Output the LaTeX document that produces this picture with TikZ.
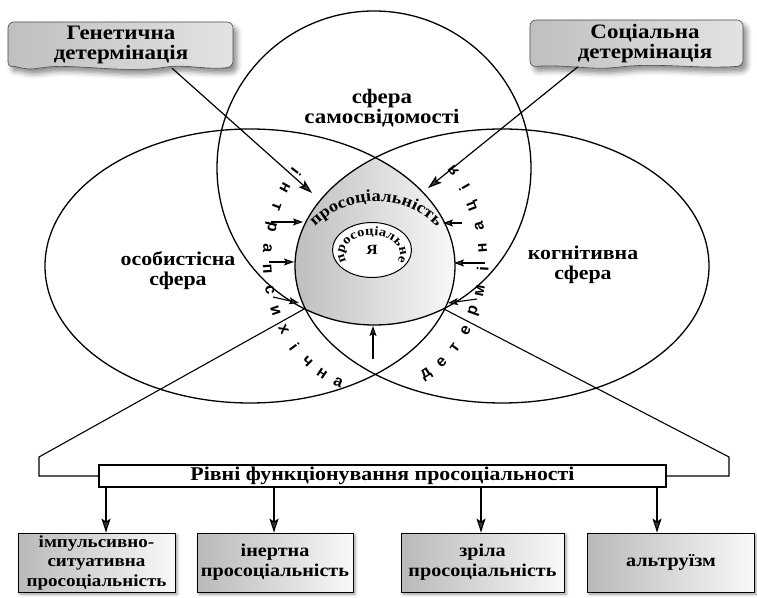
\documentclass[tikz,border=0pt]{standalone}
\usepackage{fontspec}
\setmainfont{Liberation Serif}[FakeStretch=1.12]
\newfontfamily\lsans{Liberation Sans}
\usetikzlibrary{arrows.meta,decorations.text,shadows.blur,shapes.geometric}
\begin{document}
\begin{tikzpicture}[x=1pt,y=1pt,
  outl/.style={line width=1.3pt},
  lbl/.style={font=\bfseries\fontsize{19.5}{20}\selectfont,align=center,inner sep=0pt},
  arr/.style={line width=1.2pt,-{Stealth[length=14pt,width=9pt,inset=3pt,fill=gray!45!black]}},
  sarr/.style={line width=1.1pt,-{Stealth[length=10pt,width=7pt,inset=2pt,fill=gray!45!black]}},
  sletter/.style={font=\lsans\bfseries\fontsize{16}{16}\selectfont,inner sep=0pt},
  topshape/.style={line width=0.6pt,draw=gray!60!black,left color=gray!50,right color=gray!22,
     blur shadow={shadow xshift=4pt,shadow yshift=-5pt,shadow blur radius=5pt,shadow opacity=45}},
  toptext/.style={font=\bfseries\fontsize{20.5}{20.5}\selectfont,align=center,inner sep=0pt,
     minimum width=200pt,minimum height=46pt},
  lvlbox/.style={draw,line width=0.8pt,left color=gray!55,right color=gray!5,
     font=\bfseries\fontsize{18}{20}\selectfont,align=center,inner sep=0pt,minimum height=59pt,
     blur shadow={shadow xshift=2pt,shadow yshift=-2pt,shadow blur radius=3pt,shadow opacity=40}},
  titlebox/.style={draw,line width=1.2pt,fill=white,font=\bfseries\fontsize{19.5}{19.5}\selectfont,
     inner sep=0pt,minimum width=567pt,minimum height=22pt}
]
\useasboundingbox (0,0) rectangle (757,597);

% shaded intersection
\begin{scope}
  \clip (374,429) circle[radius=157pt];
  \clip (250,331) ellipse[x radius=205pt,y radius=137pt];
  \clip (502,331) ellipse[x radius=207pt,y radius=137pt];
  \shade[left color=gray!52,right color=gray!4] (290,260) rectangle (460,445);
\end{scope}

% outlines
\draw[outl] (374,429) circle[radius=157pt];
\draw[outl] (250,331) ellipse[x radius=205pt,y radius=137pt];
\draw[outl] (502,331) ellipse[x radius=207pt,y radius=137pt];

% inner ellipse
\node[draw,line width=1pt,fill=white,ellipse,minimum width=79pt,minimum height=55pt,inner sep=0pt,
  font=\bfseries\fontsize{14}{14}\selectfont] (ya) at (372,347) {Я};
\path[decorate,decoration={text along path,text align=fit to path,
  text={|\bfseries\fontsize{13}{13}\selectfont|просоціальне}}]
  (346.6,335.4) arc[start angle=205,end angle=-25,x radius=28pt,y radius=18.5pt];

% curved prosocial text
\path[decorate,decoration={text along path,text align=center,
  text={|\bfseries\fontsize{16.5}{16.5}\selectfont|просоціальність}}]
  (307.3,361.4) arc[start angle=143,end angle=37,radius=86pt];

% sphere labels
\node[lbl,font=\bfseries\fontsize{20.5}{20}\selectfont] (ssv) at (382,489) {сфера\\самосвідомості};
\node[lbl] (osf) at (178,326) {особистісна\\сфера};
\node[lbl] (kog) at (583,332) {когнітивна\\сфера};

% rotated letters
\foreach \ch [count=\k from 0] in {і,н,т,р,а,п,с,и,х,і,ч,н,а} {
  \pgfmathsetmacro\angA{137+\k*9.4167}
  \node[sletter,rotate={atan2(130*cos(\angA),-108*sin(\angA))}] (li\k)
    at ({375+108*cos(\angA)},{337+130*sin(\angA)}) {\ch};
}
\foreach \ch [count=\k from 0] in {д,е,т,е,р,м,і,н,а,ц,і,я} {
  \pgfmathsetmacro\angA{298.5+\k*9.5636}
  \node[sletter,rotate={atan2(130*cos(\angA),-108*sin(\angA))}] (ri\k)
    at ({375+108*cos(\angA)},{337+130*sin(\angA)}) {\ch};
}

% top boxes
\path[topshape,rounded corners=6pt] (8,575) -- (233,575) -- (233,530)
  .. controls (205,527) and (185,533) .. (160,529)
  .. controls (120,525) and (70,533) .. (40,529)
  .. controls (25,527) and (15,531) .. (8,529) -- cycle;
\node[toptext] (gen) at (121,552) {Генетична\\детермінація};
\path[topshape,rounded corners=6pt] (530,577) -- (743,577) -- (743,531)
  .. controls (700,528) and (660,534) .. (620,530)
  .. controls (590,527) and (560,533) .. (530,530) -- cycle;
\node[toptext] (soc) at (645,553.5) {Соціальна\\детермінація};

\coordinate (tg) at (312,404);
\coordinate (ts) at (428,409);
\draw[arr] ([xshift=51pt]gen.south) -- (tg);
\draw[arr] ([xshift=-67pt]soc.south) -- (ts);

% small arrows
\coordinate (l1a) at (271,375); \coordinate (l1b) at (303,375);
\coordinate (l2a) at (269,335); \coordinate (l2b) at (294,335);
\coordinate (l3a) at (273,300); \coordinate (l3b) at (299,294);
\coordinate (r1a) at (462,374); \coordinate (r1b) at (443,374);
\coordinate (r2a) at (485,334); \coordinate (r2b) at (454,334);
\coordinate (r3a) at (477,298); \coordinate (r3b) at (448,294);
\coordinate (bma) at (373,238); \coordinate (bmb) at (373,271);
\foreach \a/\b in {l1a/l1b,l2a/l2b,l3a/l3b,r1a/r1b,r2a/r2b,r3a/r3b,bma/bmb}
  \draw[sarr] (\a) -- (\b);

% bracket and level title
\node[titlebox] (lvl) at (382.5,121) {Рівні функціонування просоціальності};
\coordinate (cl) at (305,288.5);
\coordinate (cr) at (443,288.5);
\coordinate (bl1) at (39,140); \coordinate (bl2) at (39,121);
\coordinate (br1) at (729,140); \coordinate (br2) at (729,121);
\draw[line width=1.1pt] (cl) -- (bl1) -- (bl2) -- (lvl.west);
\draw[line width=1.1pt] (cr) -- (br1) -- (br2) -- (lvl.east);

% level boxes
\node[lvlbox,minimum width=157pt,font=\bfseries\fontsize{17}{19.5}\selectfont] (b1) at (96.5,34.5) {імпульсивно-\\ситуативна\\просоціальність};
\node[lvlbox,minimum width=156pt] (b2) at (275,34.5) {інертна\\просоціальність};
\node[lvlbox,minimum width=163pt] (b3) at (482.5,34.5) {зріла\\просоціальність};
\node[lvlbox,minimum width=167pt] (b4) at (671,34.5) {альтруїзм};

\coordinate (x1) at (106,0); \coordinate (x2) at (274,0);
\coordinate (x3) at (481,0); \coordinate (x4) at (657,0);
\draw[arr] (lvl.south -| x1) -- (b1.north -| x1);
\draw[arr] (lvl.south -| x2) -- (b2.north -| x2);
\draw[arr] (lvl.south -| x3) -- (b3.north -| x3);
\draw[arr] (lvl.south -| x4) -- (b4.north -| x4);
\end{tikzpicture}
\end{document}
